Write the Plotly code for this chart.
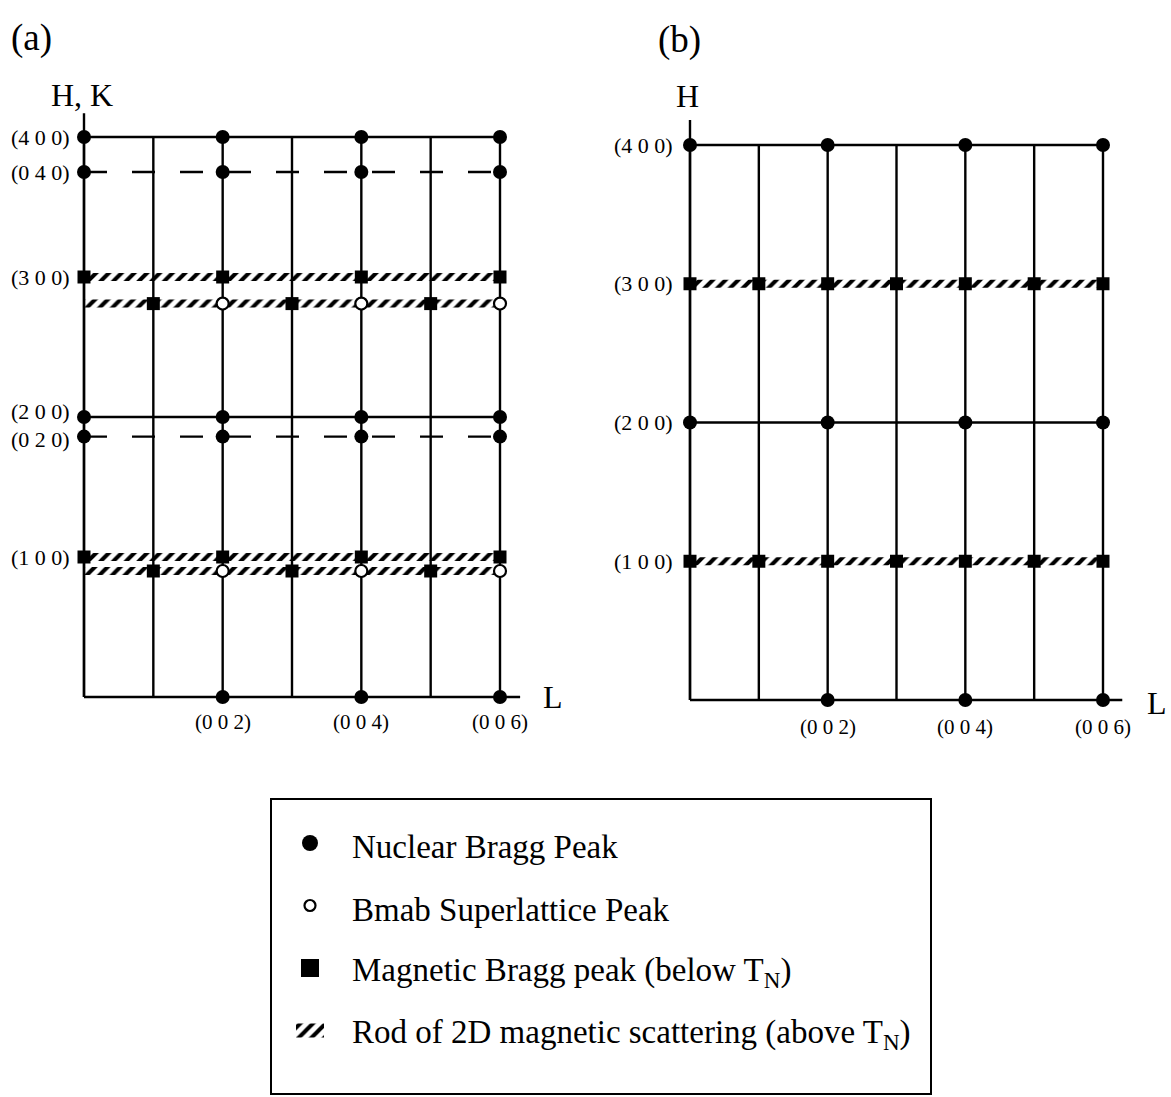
import plotly.graph_objects as go

W, H = 1171, 1097
FONT = "Liberation Serif"

# ---- reciprocal-lattice data -------------------------------------------
# grid columns along (0 0 L)
L_cols = [0, 1, 2, 3, 4, 5, 6]
L_even = [0, 2, 4, 6]
L_odd = [1, 3, 5]
L_axis_peaks = [2, 4, 6]
L_tick_text = ["(0 0 2)", "(0 0 4)", "(0 0 6)"]

# panel (a): twinned H / K rows
a_H_rows = [4.0, 2.0]            # (4 0 0), (2 0 0)  solid rows
a_K_rows = [3.75, 1.86]          # (0 4 0), (0 2 0)  dashed rows
a_mag_rows = [3.0, 1.0]          # (3 0 0), (1 0 0)  magnetic rows
a_shift_rows = [2.81, 0.9]       # shifted magnetic / superlattice rows
a_tick_vals = [4.0, 3.75, 3.0, 2.0, 1.86, 1.0]
a_tick_text = ["(4 0 0)", "(0 4 0)", "(3 0 0)", "(2 0 0)", "(0 2 0)", "(1 0 0)"]
a_tick_nudge = [0, 0, 0, 6, -3, 0]

# panel (b): single domain
b_H_rows = [4, 2]
b_mag_rows = [3, 1]
b_tick_vals = [4, 3, 2, 1]
b_tick_text = ["(4 0 0)", "(3 0 0)", "(2 0 0)", "(1 0 0)"]

legend_labels = [
    "Nuclear Bragg Peak",
    "Bmab Superlattice Peak",
    "Magnetic Bragg peak (below T<sub>N</sub>)",
    "Rod of 2D magnetic scattering (above T<sub>N</sub>)",
]


def axis_range(p0, v0, p1, v1, total):
    """Value range spanning pixel 0..total given two pixel/value anchors."""
    k = (v1 - v0) / (p1 - p0)
    return [v0 - p0 * k, v0 + (total - p0) * k]


def flip(r):
    return [r[1], r[0]]


fig = go.Figure()

ax_common = dict(visible=False, showgrid=False, zeroline=False, domain=[0, 1])
fig.update_layout(
    width=W, height=H,
    margin=dict(l=0, r=0, t=0, b=0),
    paper_bgcolor="white", plot_bgcolor="rgba(0,0,0,0)",
    showlegend=False,
    font=dict(family=FONT, color="black"),
    xaxis=dict(**ax_common, anchor="y", range=axis_range(84, 0, 500, 6, W)),
    yaxis=dict(**ax_common, anchor="x", range=flip(axis_range(697, 0, 137, 4, H))),
    xaxis2=dict(**ax_common, anchor="y2", range=axis_range(690, 0, 1103, 6, W)),
    yaxis2=dict(**ax_common, anchor="x2", range=flip(axis_range(700, 0, 145, 4, H))),
    xaxis3=dict(**ax_common, anchor="y3", range=[0, W]),
    yaxis3=dict(**ax_common, anchor="x3", range=[H, 0]),
)

LW = 2.4
HATCH = dict(shape="/", size=9, solidity=0.45, fgcolor="black", fgopacity=1,
             bgcolor="rgba(0,0,0,0)", fillmode="overlay")


def seg_trace(xs, ys, xa, ya, dash=None):
    fig.add_trace(go.Scatter(x=xs, y=ys, mode="lines", xaxis=xa, yaxis=ya,
                             line=dict(color="black", width=LW, dash=dash),
                             hoverinfo="skip", cliponaxis=False))


def hatch_box(x0, x1, y0, y1, xa, ya):
    fig.add_trace(go.Scatter(
        x=[x0, x1, x1, x0, x0], y=[y0, y0, y1, y1, y0],
        mode="lines", fill="toself", line=dict(width=0),
        fillcolor="rgba(0,0,0,0)", fillpattern=HATCH,
        xaxis=xa, yaxis=ya, hoverinfo="skip", cliponaxis=False))


def rod(level, half, xa, ya):
    hatch_box(L_cols[0], L_cols[-1], level - half, level + half, xa, ya)


def markers(xs, ys, xa, ya, symbol, size, open_=False):
    fig.add_trace(go.Scatter(
        x=xs, y=ys, mode="markers", xaxis=xa, yaxis=ya, cliponaxis=False,
        marker=dict(symbol=symbol, size=size,
                    color="white" if open_ else "black",
                    line=dict(color="black", width=2.2 if open_ else 0)),
        hoverinfo="skip"))


def panel(xa, ya, top, solid_rows, axis_top, axis_end):
    # vertical columns
    xs, ys = [], []
    for L in L_cols:
        xs += [L, L, None]
        ys += [0, top, None]
    seg_trace(xs, ys, xa, ya)
    # axes
    seg_trace([L_cols[0], L_cols[0]], [0, axis_top], xa, ya)
    seg_trace([L_cols[0], axis_end], [0, 0], xa, ya)
    # solid H rows
    xs, ys = [], []
    for h in solid_rows:
        xs += [L_cols[0], L_cols[-1], None]
        ys += [h, h, None]
    seg_trace(xs, ys, xa, ya)


# ---- panel (a) ---------------------------------------------------------
panel("x", "y", a_H_rows[0], a_H_rows, 4.17, 6.29)
xs, ys = [], []
for k in a_K_rows:
    xs += [L_cols[0], L_cols[-1], None]
    ys += [k, k, None]
seg_trace(xs, ys, "x", "y", dash="23px,25px")
for lev in a_mag_rows + a_shift_rows:
    rod(lev, 4.0 / 140, "x", "y")

nuc_x = [L for h in a_H_rows + a_K_rows for L in L_even] + L_axis_peaks
nuc_y = [h for h in a_H_rows + a_K_rows for L in L_even] + [0] * len(L_axis_peaks)
markers(nuc_x, nuc_y, "x", "y", "circle", 14)
mag_x = [L for h in a_mag_rows for L in L_even] + [L for h in a_shift_rows for L in L_odd]
mag_y = [h for h in a_mag_rows for L in L_even] + [h for h in a_shift_rows for L in L_odd]
markers(mag_x, mag_y, "x", "y", "square", 13)
sl_x = [L for h in a_shift_rows for L in L_axis_peaks]
sl_y = [h for h in a_shift_rows for L in L_axis_peaks]
markers(sl_x, sl_y, "x", "y", "circle", 12, open_=True)

# ---- panel (b) ---------------------------------------------------------
panel("x2", "y2", b_H_rows[0], b_H_rows, 4.18, 6.28)
for lev in b_mag_rows:
    rod(lev, 4.0 / 138.75, "x2", "y2")
nuc_x = [L for h in b_H_rows for L in L_even] + L_axis_peaks
nuc_y = [h for h in b_H_rows for L in L_even] + [0] * len(L_axis_peaks)
markers(nuc_x, nuc_y, "x2", "y2", "circle", 14)
mag_x = [L for h in b_mag_rows for L in L_cols]
mag_y = [h for h in b_mag_rows for L in L_cols]
markers(mag_x, mag_y, "x2", "y2", "square", 13)

# ---- text ----------------------------------------------------------------
ann = []
TICK = 22
for v, t, n in zip(a_tick_vals, a_tick_text, a_tick_nudge):
    ann.append(dict(x=-0.17, y=v, xref="x", yref="y", text=t, showarrow=False,
                    xanchor="right", yanchor="middle", yshift=n,
                    font=dict(size=TICK)))
for v, t in zip(b_tick_vals, b_tick_text):
    ann.append(dict(x=-0.22, y=v, xref="x2", yref="y2", text=t, showarrow=False,
                    xanchor="right", yanchor="middle", font=dict(size=TICK)))
for L, t in zip(L_axis_peaks, L_tick_text):
    ann.append(dict(x=L, y=0, xref="x", yref="y", text=t, showarrow=False,
                    yanchor="middle", yshift=-25, font=dict(size=TICK - 1)))
    ann.append(dict(x=L, y=0, xref="x2", yref="y2", text=t, showarrow=False,
                    yanchor="middle", yshift=-27, font=dict(size=TICK - 1)))

ann += [
    dict(x=6.76, y=0, xref="x", yref="y", text="L", showarrow=False,
         yanchor="middle", font=dict(size=32)),
    dict(x=6.78, y=0, xref="x2", yref="y2", text="L", showarrow=False,
         yanchor="middle", yshift=-3, font=dict(size=32)),
    dict(x=-0.03, y=4.3, xref="x", yref="y", text="H, K", showarrow=False,
         yanchor="middle", font=dict(size=32)),
    dict(x=-0.03, y=4.35, xref="x2", yref="y2", text="H", showarrow=False,
         yanchor="middle", font=dict(size=32)),
    dict(x=31, y=38, xref="x3", yref="y3", text="(a)", showarrow=False,
         yanchor="middle", font=dict(size=37)),
    dict(x=679, y=40, xref="x3", yref="y3", text="(b)", showarrow=False,
         yanchor="middle", font=dict(size=37)),
]

# ---- key box ---------------------------------------------------------------
box = dict(x0=271, x1=931, y0=799, y1=1094)
fig.add_shape(type="rect", xref="x3", yref="y3", line=dict(color="black", width=2),
              fillcolor="rgba(0,0,0,0)", **box)
row0, row_gap, sym_x, text_x = 843, 62.5, 310, 350
rows = [row0 + i * row_gap for i in range(len(legend_labels))]
markers([sym_x], [rows[0]], "x3", "y3", "circle", 16)
markers([sym_x], [rows[1]], "x3", "y3", "circle", 11, open_=True)
markers([sym_x], [rows[2]], "x3", "y3", "square", 18)
hatch_box(sym_x - 14, sym_x + 14, rows[3] - 7, rows[3] + 7, "x3", "y3")
for y, t in zip(rows, legend_labels):
    ann.append(dict(x=text_x, y=y + 4, xref="x3", yref="y3", text=t,
                    showarrow=False, xanchor="left", yanchor="middle",
                    font=dict(size=33)))

fig.update_layout(annotations=ann)
fig.write_html("out.html")
